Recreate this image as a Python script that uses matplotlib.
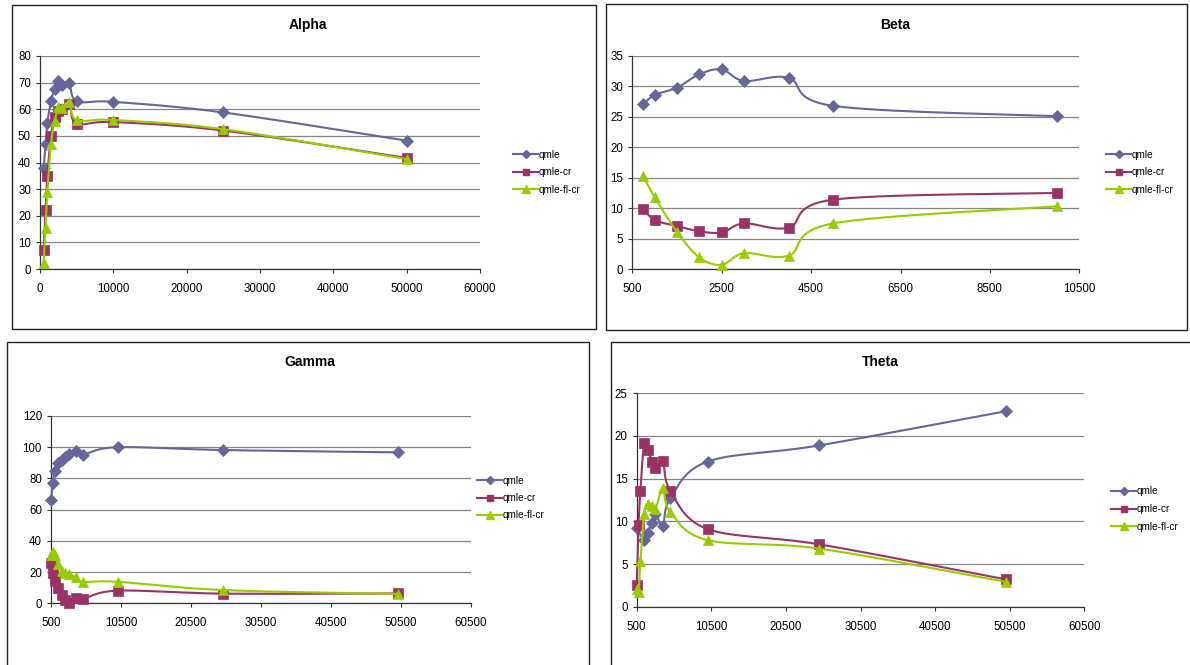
import numpy as np
import matplotlib
matplotlib.use("Agg")
import matplotlib.pyplot as plt
from matplotlib.lines import Line2D
from matplotlib.patches import Rectangle

plt.rcParams['font.family'] = ['Liberation Sans', 'DejaVu Sans']

# ---- data ----
series_names = ["qmle", "qmle-cr", "qmle-fl-cr"]

n_full = [500, 750, 1000, 1500, 2000, 2500, 3000, 4000, 5000, 10000, 25000, 50000]

alpha_qmle = [38, 47, 55, 63, 67.5, 70.5, 69, 70, 63, 62.8, 58.8, 48.2]
alpha_cr = [7.2, 22.3, 35, 50, 57, 59.5, 60, 61.8, 54.6, 55.2, 52, 41.7]
alpha_flcr = [2.4, 15.3, 29, 47, 55.6, 60.9, 60.5, 62.6, 55.9, 56, 52.5, 41.3]

n_beta = [750, 1000, 1500, 2000, 2500, 3000, 4000, 5000, 10000]
beta_qmle = [27.1, 28.6, 29.8, 32.0, 32.8, 30.9, 31.4, 26.8, 25.1]
beta_cr = [9.9, 8.05, 7.05, 6.2, 6.0, 7.5, 6.8, 11.4, 12.5]
beta_flcr = [15.2, 11.8, 6.1, 1.9, 0.7, 2.6, 2.2, 7.5, 10.3]

gamma_qmle = [66, 77, 84.5, 90, 92, 94, 95.5, 97.6, 95.3, 100, 98.2, 96.7]
gamma_cr = [26, 19.5, 14, 9.5, 5.5, 2.2, 0.3, 3.2, 2.6, 8.1, 6.2, 6.3]
gamma_flcr = [31, 33, 31, 25, 21, 19.5, 18.5, 17, 13.8, 13.8, 8.5, 6.0]

n_theta_qmle = [500, 1500, 2000, 2500, 3000, 4000, 5000, 10000, 25000, 50000]
theta_qmle = [9.2, 7.8, 8.6, 9.8, 10.9, 9.5, 12.7, 17, 18.9, 22.9]
theta_cr = [2.6, 9.6, 13.6, 19.2, 18.4, 17, 16.2, 17.1, 13.6, 9.1, 7.3, 3.2]
theta_flcr = [2.1, 1.7, 5.3, 10.9, 12, 11.8, 11.4, 13.9, 11.1, 7.8, 6.8, 2.9]

colors = ["#666699", "#993366", "#99CC00"]
markers = ["D", "s", "^"]
msizes = [6.2, 6.5, 7.8]


def smooth(x, y, steps=30):
    """Bezier smoothing through every point (Catmull-Rom style tangents)."""
    P = np.column_stack([x, y]).astype(float)
    if len(P) < 3:
        return P[:, 0], P[:, 1]
    out = [P[0]]
    t = np.linspace(0, 1, steps)[1:, None]
    for i in range(len(P) - 1):
        p0 = P[i - 1] if i > 0 else P[i]
        p1, p2 = P[i], P[i + 1]
        p3 = P[i + 2] if i + 2 < len(P) else P[i + 1]
        c1 = p1 + (p2 - p0) / 6.0
        c2 = p2 - (p3 - p1) / 6.0
        seg = ((1 - t) ** 3) * p1 + 3 * ((1 - t) ** 2) * t * c1 \
            + 3 * (1 - t) * t ** 2 * c2 + t ** 3 * p2
        out.extend(seg)
    out = np.array(out)
    return out[:, 0], out[:, 1]


W, H = 1190, 665
fig = plt.figure(figsize=(W / 100, H / 100), dpi=100)


def fx(px):
    return px / W


def fy(py):
    return 1 - py / H


# panel frames
for (x0, y0, x1, y1) in [(11.5, 4.5, 596, 329), (606, 4.5, 1187, 330),
                         (6.5, 341.5, 589, 700), (611, 341.5, 1200, 700)]:
    fig.patches.append(Rectangle((fx(x0), fy(y1)), fx(x1 - x0), (y1 - y0) / H,
                                 transform=fig.transFigure, fill=False,
                                 edgecolor="#222222", linewidth=1.0, zorder=0))

panels = [
    dict(title="Alpha", title_xy=(308, 25), box=(40, 56, 480, 269),
         xs=[n_full, n_full, n_full], ys=[alpha_qmle, alpha_cr, alpha_flcr],
         xlim=(0, 60000), xticks=np.arange(0, 60001, 10000),
         ylim=(0, 80), yticks=np.arange(0, 81, 10), leg=(513, 172)),
    dict(title="Beta", title_xy=(895, 25), box=(632.3, 56, 1079.3, 269),
         xs=[n_beta, n_beta, n_beta], ys=[beta_qmle, beta_cr, beta_flcr],
         xlim=(500, 10500), xticks=np.arange(500, 10501, 2000),
         ylim=(0, 35), yticks=np.arange(0, 36, 5), leg=(1106, 172)),
    dict(title="Gamma", title_xy=(310, 362), box=(51, 416, 471, 603.3),
         xs=[n_full, n_full, n_full], ys=[gamma_qmle, gamma_cr, gamma_flcr],
         xlim=(500, 60500), xticks=np.arange(500, 60501, 10000),
         ylim=(0, 120), yticks=np.arange(0, 121, 20), leg=(477, 498)),
    dict(title="Theta", title_xy=(880, 362), box=(636.7, 393.3, 1084.3, 606.7),
         xs=[n_theta_qmle, n_full, n_full], ys=[theta_qmle, theta_cr, theta_flcr],
         xlim=(500, 60500), xticks=np.arange(500, 60501, 10000),
         ylim=(0, 25), yticks=np.arange(0, 26, 5), leg=(1111, 509)),
]

for p in panels:
    l, t, r, b = p["box"]
    ax = fig.add_axes([fx(l), fy(b), (r - l) / W, (b - t) / H])
    ax.set_xlim(*p["xlim"])
    ax.set_ylim(*p["ylim"])
    ax.set_xticks(p["xticks"])
    ax.set_yticks(p["yticks"])
    ax.tick_params(labelsize=8.3, length=3.0, width=0.8, color="#333333",
                   direction="out")
    ax.tick_params(axis="x", pad=7)
    ax.tick_params(axis="y", pad=3.5)
    for s in ["top", "right"]:
        ax.spines[s].set_visible(False)
    for s in ["left", "bottom"]:
        ax.spines[s].set_color("#333333")
        ax.spines[s].set_linewidth(0.9)
    ax.yaxis.grid(True, color="#868686", linewidth=0.9)
    ax.set_axisbelow(True)
    for k in range(3):
        sx, sy = smooth(p["xs"][k], p["ys"][k])
        ax.plot(sx, sy, color=colors[k], linewidth=1.5, zorder=3 + k,
                solid_capstyle="round", clip_on=False)
        ax.plot(p["xs"][k], p["ys"][k], linestyle="none", marker=markers[k],
                markersize=msizes[k], color=colors[k], zorder=3 + k,
                clip_on=False, markeredgewidth=0.5)
    fig.text(fx(p["title_xy"][0]), fy(p["title_xy"][1]), p["title"],
             ha="center", va="center", fontsize=10, fontweight="bold")
    handles = [Line2D([], [], color=colors[k], marker=markers[k],
                      markersize=[4.2, 5, 5.8][k], linewidth=1.5)
               for k in range(3)]
    lx, ly = p["leg"]
    fig.legend(handles, series_names, loc="center left",
               bbox_to_anchor=(fx(lx), fy(ly)), frameon=False, fontsize=7.2,
               handlelength=2.5, handletextpad=0.1, labelspacing=0.75,
               borderpad=0, borderaxespad=0)

fig.savefig("out.png", dpi=100)
